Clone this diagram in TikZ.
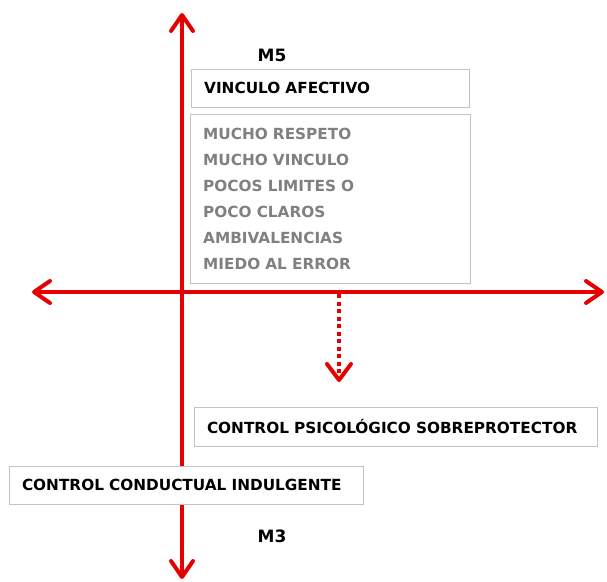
\documentclass[tikz,border=0pt]{standalone}
\usepackage{fontspec}
\setmainfont{DejaVu Sans}
\usetikzlibrary{arrows.meta}
\definecolor{axisred}{RGB}{230,0,0}
\definecolor{listgray}{RGB}{128,128,128}
\definecolor{boxgray}{RGB}{195,195,195}
\begin{document}
\begin{tikzpicture}[x=1pt,y=-1pt,
  axis/.style={draw=axisred, line width=4pt, line cap=round,
    {Straight Barb[length=16pt,width=22pt,line cap=round,line join=round]}-{Straight Barb[length=16pt,width=22pt,line cap=round,line join=round]}},
  dotarrow/.style={draw=axisred, line width=4pt, dash pattern=on 4pt off 3.5pt,
    -{Straight Barb[length=16pt,width=24pt,line cap=round,line join=round]}},
  labelbox/.style={draw=boxgray, line width=0.8pt, fill=white, align=left,
    inner xsep=12.5pt, inner ysep=0pt, font=\fontsize{15.3}{18}\selectfont\bfseries},
  mlabel/.style={font=\fontsize{17}{18}\selectfont\bfseries, inner sep=0pt}
]
\useasboundingbox (0,0) rectangle (607,581);
% axes
\coordinate (ytop) at (182,13);
\coordinate (ybot) at (182,579);
\coordinate (xleft) at (32,292);
\coordinate (xright) at (604,292);
\coordinate (dstart) at (339,294);
\coordinate (dend) at (339,382);
\draw[axis] (ybot) -- (ytop);
\draw[axis] (xleft) -- (xright);
\draw[dotarrow] (dstart) -- (dend);
% labels
\node[mlabel] (m5) at (272,55) {M5};
\node[mlabel] (m3) at (272,536) {M3};
% boxes
\node[labelbox, text width=252.6pt, minimum height=38pt] (vinculo) at (330.5,88) {VINCULO AFECTIVO};
\node[labelbox, text width=255pt, minimum height=169pt, text=listgray,
      font=\fontsize{15.3}{25.9}\selectfont\bfseries] (lista) at (330.7,199) {MUCHO RESPETO\\MUCHO VINCULO\\POCOS LIMITES O\\POCO CLAROS\\AMBIVALENCIAS\\MIEDO AL ERROR};
\node[labelbox, text width=378pt, minimum height=39pt] (psico) at (396,426.5) {CONTROL PSICOLÓGICO SOBREPROTECTOR};
\node[labelbox, text width=329pt, minimum height=38pt] (conduc) at (186.5,485) {CONTROL CONDUCTUAL INDULGENTE};
\end{tikzpicture}
\end{document}
